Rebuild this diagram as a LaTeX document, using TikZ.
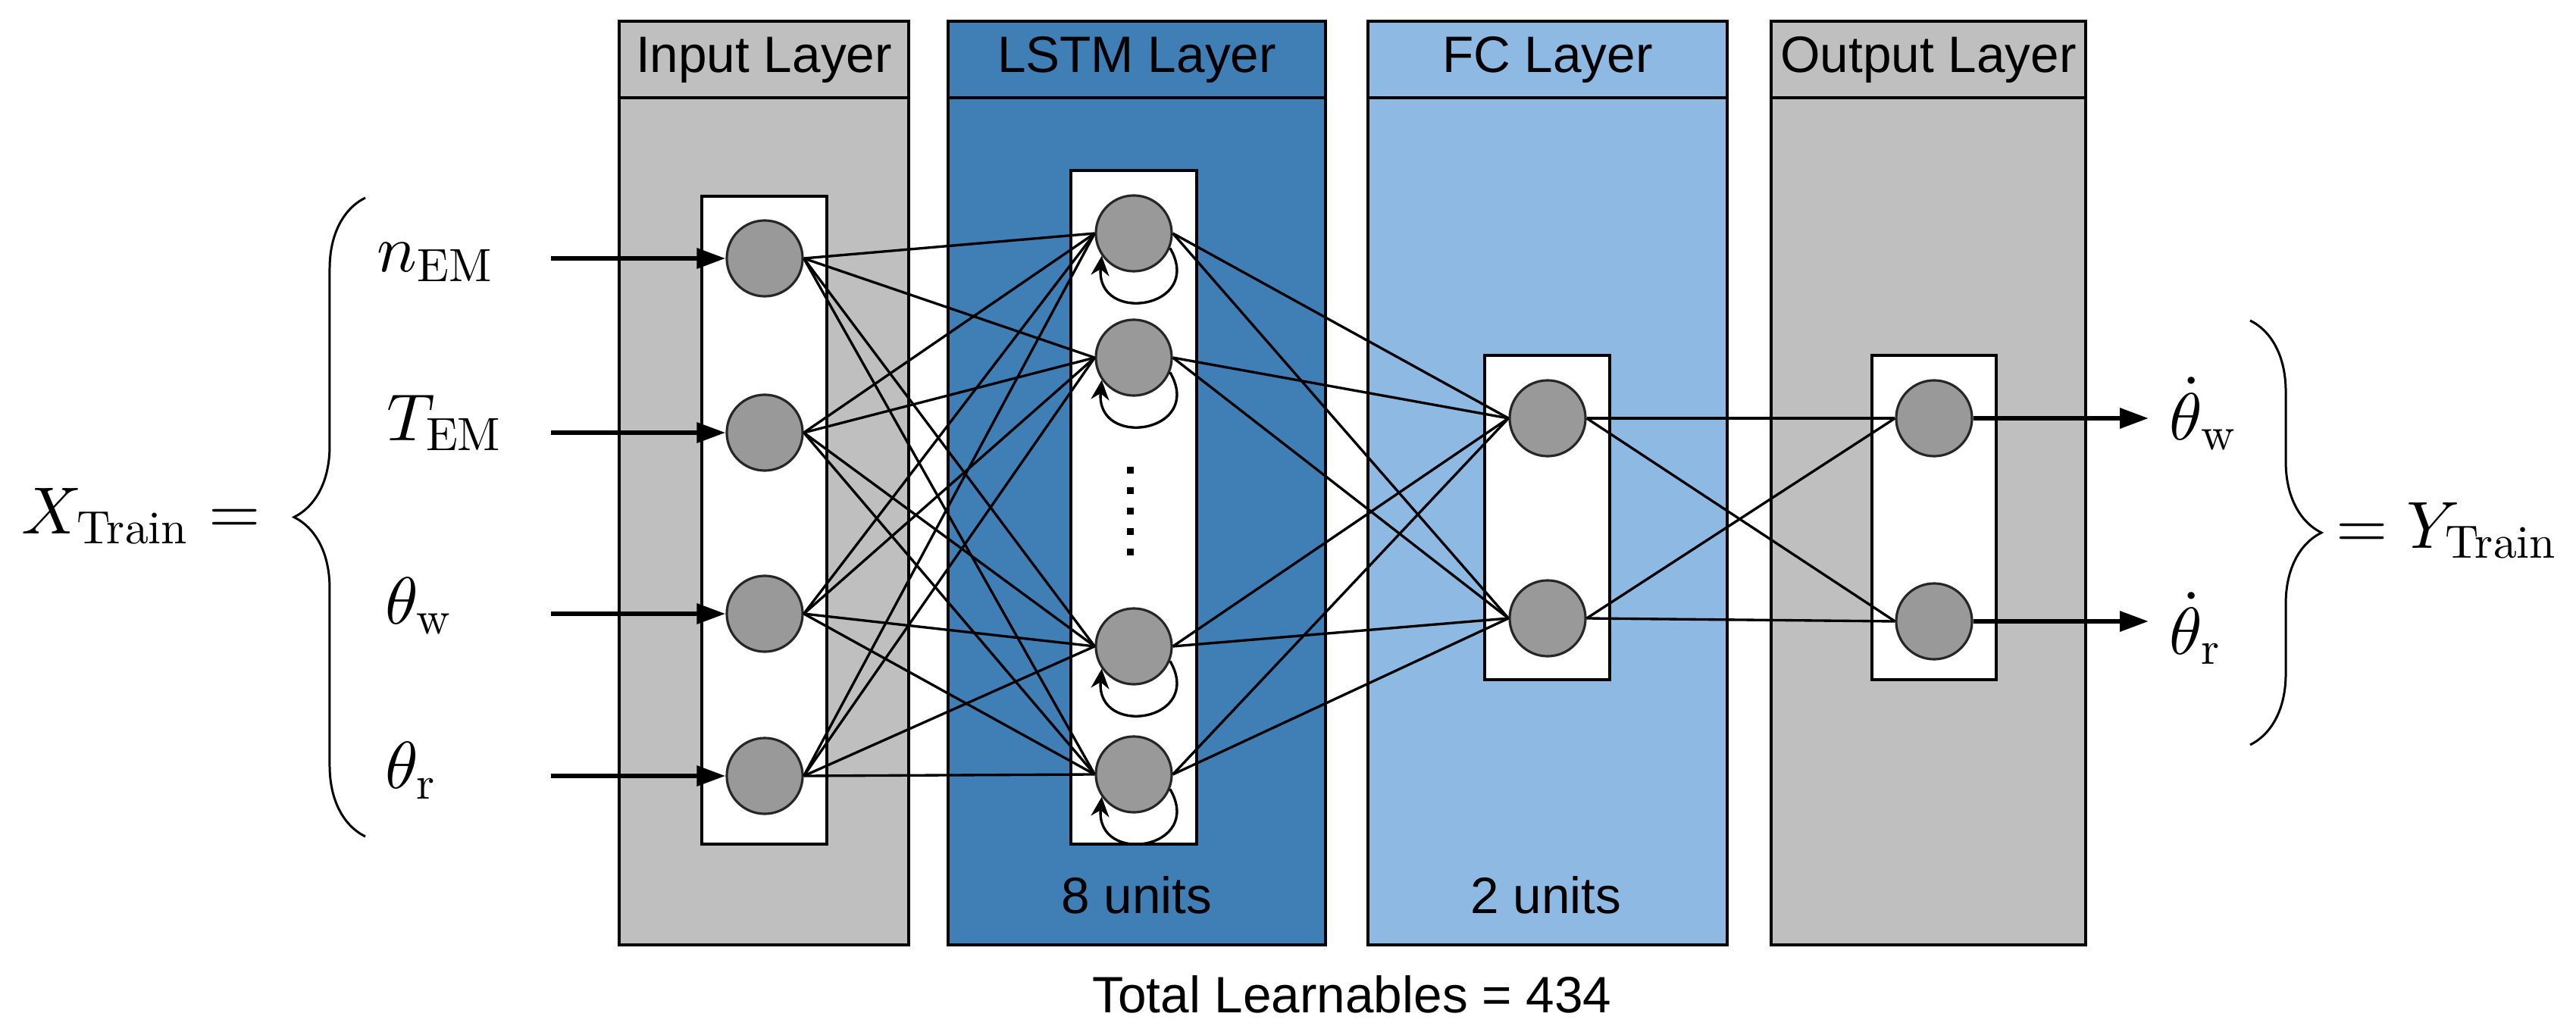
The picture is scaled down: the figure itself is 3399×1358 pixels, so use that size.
\documentclass[tikz,border=0pt]{standalone}
\usepackage{fontspec}
\newfontfamily\layerfont{Liberation Sans}
\newfontfamily\subfont{lmroman10-regular.otf}
\usetikzlibrary{arrows.meta,decorations.pathreplacing}

\definecolor{inputgray}{RGB}{191,191,191}
\definecolor{lstmblue}{RGB}{64,126,182}
\definecolor{fcblue}{RGB}{142,185,227}
\definecolor{nodegray}{RGB}{153,153,153}

\newcommand{\bigmath}[1]{\scalebox{2.5}{$#1$}}
\newcommand{\subtxt}[1]{\mbox{\subfont\fontsize{7}{8}\selectfont #1}}

\begin{document}
\begin{tikzpicture}[x=0.01cm,y=-0.01cm,
  layer/.style={draw,line width=1.1pt},
  inner box/.style={draw,fill=white,line width=1.1pt},
  unit/.style={circle,draw=black!85,fill=nodegray,line width=0.9pt,minimum size=1cm,inner sep=0pt},
  head/.style={font=\layerfont\fontsize{19.2}{23}\selectfont,anchor=base},
  var/.style={font=\normalsize,inner sep=0pt},
  link/.style={line width=0.95pt},
  feed/.style={line width=1.8pt,-{Triangle[length=0.38cm,width=0.26cm]}},
  recur/.style={line width=0.95pt,-{Stealth[length=0.26cm,width=0.24cm]}},
  curly/.style={decorate,decoration={brace,amplitude=0.94cm},line width=0.85pt}]

  \useasboundingbox (0,0) rectangle (3399,1358);

  % layer columns
  \foreach \xa/\xb/\col/\name in {817/1199/inputgray/Input Layer,
      1251/1749/lstmblue/LSTM Layer, 1805/2279/fcblue/FC Layer,
      2337/2752/inputgray/Output Layer} {
    \draw[layer,fill=\col] (\xa,28) rectangle (\xb,1247);
    \draw[layer] (\xa,129) -- (\xb,129);
    \node[head] at ({(\xa+\xb)/2},96) {\name};
  }

  % white boxes holding the units
  \draw[inner box] (926,259) rectangle (1091,1114);
  \draw[inner box] (1413,225) rectangle (1579,1114);
  \draw[inner box] (1959,469) rectangle (2124,897);
  \draw[inner box] (2470,469) rectangle (2634,897);

  \node[head] at (1500,1205) {8 units};
  \node[head] at (2040,1205) {2 units};
  \node[head] at (1784,1336) {Total Learnables = 434};

  % units
  \node[unit] (i1) at (1009,341) {};
  \node[unit] (i2) at (1009,571) {};
  \node[unit] (i3) at (1009,810) {};
  \node[unit] (i4) at (1009,1024) {};
  \node[unit] (l1) at (1496,308) {};
  \node[unit] (l2) at (1496,472) {};
  \node[unit] (l3) at (1496,853) {};
  \node[unit] (l4) at (1496,1022) {};
  \node[unit] (f1) at (2042,552) {};
  \node[unit] (f2) at (2042,816) {};
  \node[unit] (o1) at (2552,552) {};
  \node[unit] (o2) at (2552,820) {};

  \foreach \y in {616,643,670,697,724}
    \fill (1486.5,\y) rectangle (1495.5,\y+9);

  % inputs and outputs
  \node[var,anchor=west] (nem) at (497,346) {\bigmath{n_{\subtxt{EM}}}};
  \node[var,anchor=west] (tem) at (510,558) {\bigmath{T_{\subtxt{EM}}}};
  \node[var,anchor=west] (thw) at (508,800) {\bigmath{\theta_{\subtxt{w}}}};
  \node[var,anchor=west] (thr) at (508,1017) {\bigmath{\theta_{\subtxt{r}}}};
  \node[var,anchor=east] (xtrain) at (345,681) {\bigmath{X_{\subtxt{Train}} =}};
  \node[var,anchor=west] (dthw) at (2862,546) {\bigmath{\dot{\theta}_{\subtxt{w}}}};
  \node[var,anchor=west] (dthr) at (2862,829) {\bigmath{\dot{\theta}_{\subtxt{r}}}};
  \node[var,anchor=west] (ytrain) at (3082,700) {\bigmath{= Y_{\subtxt{Train}}}};

  \foreach \k/\y in {1/341,2/571,3/810,4/1024} {
    \coordinate (in\k) at (727,\y);
    \draw[feed] (in\k) -- (i\k.west);
  }
  \coordinate (out1) at (2835,552);
  \coordinate (out2) at (2835,820);
  \draw[feed] (o1.east) -- (out1);
  \draw[feed] (o2.east) -- (out2);

  \draw[curly] (482,1104) -- (482,261);
  \draw[curly] (2969,423) -- (2969,983);

  % connections
  \foreach \a in {1,...,4}
    \foreach \b in {1,...,4}
      \draw[link] (i\a.east) -- (l\b.west);
  \foreach \a in {1,...,4}
    \foreach \b in {1,2}
      \draw[link] (l\a.east) -- (f\b.west);
  \foreach \a in {1,2}
    \foreach \b in {1,2}
      \draw[link] (f\a.east) -- (o\b.west);

  % recurrent loops
  \foreach \k in {1,...,4}
    \draw[recur] (l\k.-22) to[out=-60,in=-95,looseness=2.6] (l\k.-145);
\end{tikzpicture}
\end{document}
